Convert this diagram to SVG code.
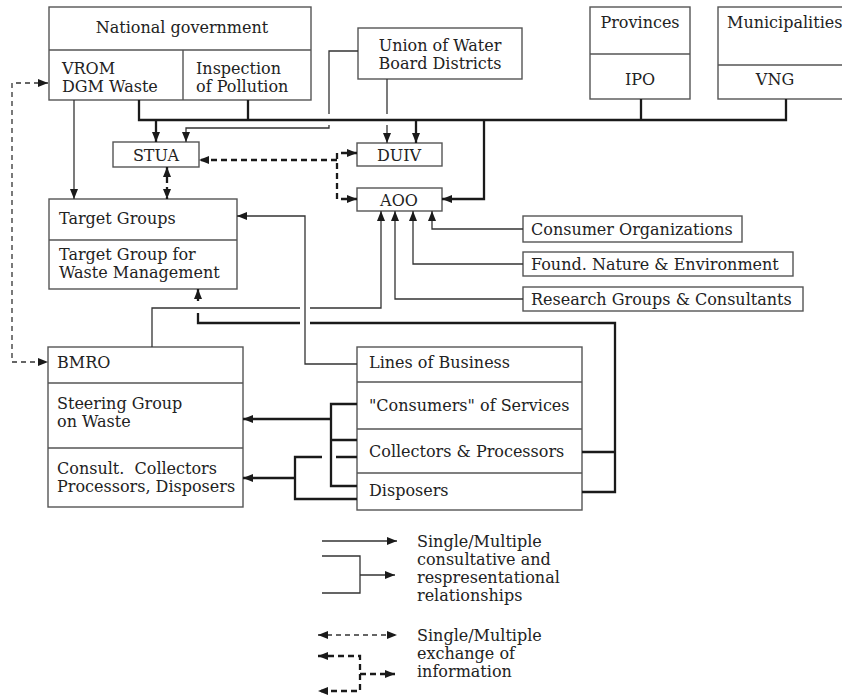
<svg xmlns="http://www.w3.org/2000/svg" width="842" height="696" viewBox="0 0 842 696">
<style>
text{font-family:"DejaVu Serif","Liberation Serif",serif;font-size:16px;fill:#222}
.c{text-anchor:middle}
rect,.dv{fill:#fff;stroke:#555;stroke-width:1.4}
.dv{fill:none}
.t{fill:none;stroke:#333;stroke-width:1.3}
.k{fill:none;stroke:#1a1a1a;stroke-width:2.3}
.dt{fill:none;stroke:#333;stroke-width:1.3;stroke-dasharray:5 4}
.dk{fill:none;stroke:#1a1a1a;stroke-width:2.3;stroke-dasharray:6 4}
</style>
<defs>
<marker id="a" markerUnits="userSpaceOnUse" markerWidth="10" markerHeight="8" refX="10" refY="4" orient="auto-start-reverse"><path d="M0,0 L10,4 L0,8 z" fill="#1a1a1a"/></marker>
</defs>
<rect x="0" y="0" width="842" height="696" style="fill:#fff;stroke:none"/>

<g id="national-government">
<rect x="49" y="7" width="262" height="93"/>
<path class="dv" d="M49,50 H311 M183,50 V100"/>
<text class="c" x="182" y="33">National government</text>
<text x="62" y="74">VROM</text>
<text x="62" y="92">DGM Waste</text>
<text x="196" y="74">Inspection</text>
<text x="196" y="92">of Pollution</text>
</g>
<g id="union">
<rect x="358" y="28" width="164" height="51"/>
<text class="c" x="440" y="51">Union of Water</text>
<text class="c" x="440" y="69">Board Districts</text>
</g>
<g id="provinces">
<rect x="590" y="7" width="100" height="92"/>
<path class="dv" d="M590,54 H690"/>
<text class="c" x="640" y="28">Provinces</text>
<text class="c" x="640" y="85">IPO</text>
</g>
<g id="municipalities">
<rect x="718" y="7" width="140" height="92"/>
<path class="dv" d="M718,65 H858"/>
<text x="727" y="28">Municipalities</text>
<text class="c" x="775" y="85">VNG</text>
</g>
<g id="stua">
<rect x="113" y="142" width="86" height="25"/>
<text class="c" x="156" y="161">STUA</text>
</g>
<g id="duiv">
<rect x="357" y="143" width="85" height="23"/>
<text class="c" x="399" y="161">DUIV</text>
</g>
<g id="aoo">
<rect x="357" y="188" width="85" height="23"/>
<text class="c" x="399" y="206">AOO</text>
</g>
<g id="target-groups">
<rect x="49" y="199" width="188" height="90"/>
<path class="dv" d="M49,240 H237"/>
<text x="59" y="224">Target Groups</text>
<text x="59" y="260">Target Group for</text>
<text x="59" y="278">Waste Management</text>
</g>
<g id="consumer-organizations">
<rect x="523" y="216" width="219" height="26"/>
<text x="531" y="235">Consumer Organizations</text>
</g>
<g id="found-nature">
<rect x="523" y="252" width="270" height="24"/>
<text x="531" y="270">Found. Nature &amp; Environment</text>
</g>
<g id="research-groups">
<rect x="523" y="287" width="280" height="24"/>
<text x="531" y="305">Research Groups &amp; Consultants</text>
</g>
<g id="bmro">
<rect x="48" y="347" width="195" height="160"/>
<path class="dv" d="M48,383 H243 M48,448 H243"/>
<text x="57" y="368">BMRO</text>
<text x="57" y="409">Steering Group</text>
<text x="57" y="427">on Waste</text>
<text x="57" y="474" xml:space="preserve">Consult.  Collectors</text>
<text x="57" y="492">Processors, Disposers</text>
</g>
<g id="lines-of-business">
<rect x="357" y="347" width="225" height="163"/>
<path class="dv" d="M357,382 H582 M357,429 H582 M357,473 H582"/>
<text x="369" y="368">Lines of Business</text>
<text x="369" y="411">"Consumers" of Services</text>
<text x="369" y="457">Collectors &amp; Processors</text>
<text x="369" y="496">Disposers</text>
</g>

<g id="connectors">
<path class="t" d="M74,100 V199" marker-end="url(#a)"/>
<path class="k" d="M139,100 V120 H786 V99 M248,100 V120 M641,99 V120"/>
<path class="k" d="M156,120 V142" marker-end="url(#a)"/>
<path class="k" d="M416,120 V143" marker-end="url(#a)"/>
<path class="k" d="M484,120 V199 H442" marker-end="url(#a)"/>
<path class="t" d="M358,51 H329 V114"/>
<path class="t" d="M329,125 V128 H186 V142" marker-end="url(#a)"/>
<path class="t" d="M387,79 V114"/>
<path class="t" d="M387,125 V143" marker-end="url(#a)"/>
<path class="dk" d="M337,160 H199" marker-end="url(#a)"/>
<path class="dk" d="M357,153 H337 V199 H357" marker-start="url(#a)" marker-end="url(#a)"/>
<path class="dk" d="M167,167 V199" marker-start="url(#a)" marker-end="url(#a)"/>
<path class="dt" d="M48,83 H12 V362 H48" marker-start="url(#a)" marker-end="url(#a)"/>
<path class="t" d="M357,364 H305 V216 H237" marker-end="url(#a)"/>
<path class="t" d="M152,347 V308 H300"/>
<path class="t" d="M310,308 H381 V211" marker-end="url(#a)"/>
<path class="k" d="M582,452 H615 M582,492 H615 V323 H310"/>
<path class="k" d="M300,323 H198 V313"/>
<path class="k" d="M198,301 V289" marker-end="url(#a)"/>
<path class="t" d="M523,229 H432 V211" marker-end="url(#a)"/>
<path class="t" d="M523,264 H413 V211" marker-end="url(#a)"/>
<path class="t" d="M523,299 H395 V211" marker-end="url(#a)"/>
<path class="k" d="M357,404 H331 V486 H357 M357,440 H331"/>
<path class="k" d="M331,419 H243" marker-end="url(#a)"/>
<path class="k" d="M357,457 H336 M322,457 H295 V499 H357"/>
<path class="k" d="M295,478 H243" marker-end="url(#a)"/>
</g>

<g id="legend">
<path class="t" d="M322,541 H397" marker-end="url(#a)"/>
<path class="t" d="M322,556 H360 V593 H322"/>
<path class="t" d="M360,575 H395" marker-end="url(#a)"/>
<text x="417" y="547">Single/Multiple</text>
<text x="417" y="565">consultative and</text>
<text x="417" y="583">respresentational</text>
<text x="417" y="601">relationships</text>
<path class="dt" d="M318,635 H397" marker-start="url(#a)" marker-end="url(#a)"/>
<path class="dk" d="M318,656 H360 V691 H318" marker-start="url(#a)" marker-end="url(#a)"/>
<path class="dk" d="M360,674 H395" marker-end="url(#a)"/>
<text x="417" y="641">Single/Multiple</text>
<text x="417" y="659">exchange of</text>
<text x="417" y="677">information</text>
</g>
</svg>
